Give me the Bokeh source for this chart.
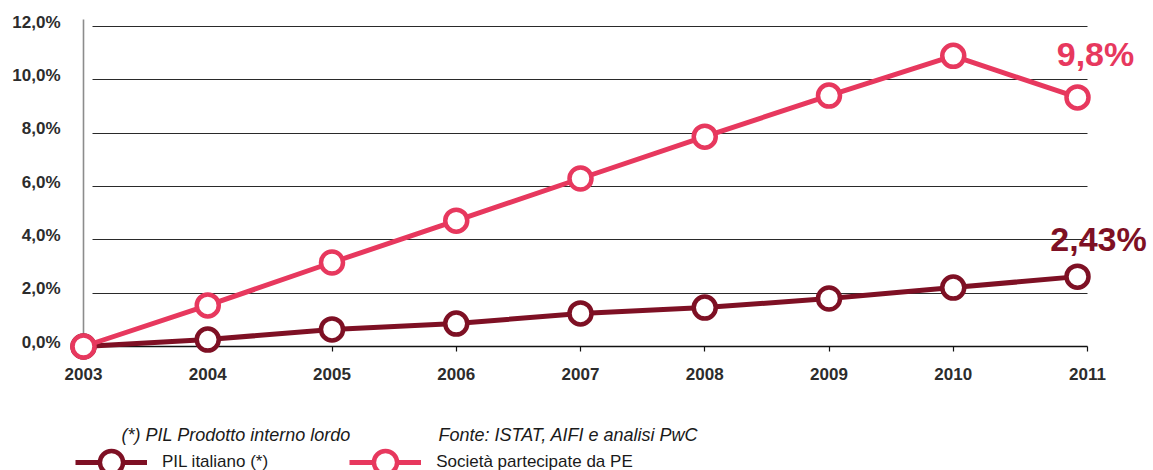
from bokeh.plotting import figure
from bokeh.models import (Range1d, LinearAxis, FixedTicker, Grid, Legend,
                          LegendItem, Label)
from bokeh.core.properties import value
from bokeh.embed import file_html
from bokeh.resources import INLINE

# ---------------- data ----------------
years = [2003, 2004, 2005, 2006, 2007, 2008, 2009, 2010, 2011]
pil_italiano = [0.0, 0.26, 0.64, 0.86, 1.24, 1.46, 1.80, 2.21, 2.62]
societa_pe = [0.0, 1.54, 3.15, 4.72, 6.30, 7.87, 9.41, 10.90, 9.34]
y_ticks = [0, 2, 4, 6, 8, 10, 12]
y_tick_labels = ["0,0%", "2,0%", "4,0%", "6,0%", "8,0%", "10,0%", "12,0%"]
x_tick_labels = ["2003", "2004", "2005", "2006", "2007", "2008", "2009", "2010", "2011"]
series_names = ["PIL italiano (*)", "Società partecipate da PE"]
end_labels = ["2,43%", "9,8%"]
footnote = "(*) PIL Prodotto interno lordo"
source_note = "Fonte: ISTAT, AIFI e analisi PwC"

# ---------------- layout / style ----------------
W, H = 1153, 470
X_FIRST_PX, X_LAST_PX = 83, 1077      # pixel of first / last year
Y0_PX, Y12_PX = 346, 26               # pixel of 0% and 12%
DARK = "#7E1024"
PINK = "#E7385E"
FONT = "Liberation Sans"
TXT = "#1a1a1a"
AXIS_TXT = "#2c2c2c"

xppu = (X_LAST_PX - X_FIRST_PX) / (years[-1] - years[0])
yppu = (Y0_PX - Y12_PX) / (y_ticks[-1] - y_ticks[0])
x_range = Range1d(years[0] - X_FIRST_PX / xppu, years[0] + (W - X_FIRST_PX) / xppu)
y_range = Range1d(-(H - Y0_PX) / yppu, Y0_PX / yppu)

p = figure(width=W, height=H, x_range=x_range, y_range=y_range,
           x_axis_location=None, y_axis_location=None,
           toolbar_location=None, output_backend="svg", min_border=0,
           outline_line_color=None, background_fill_color="white",
           border_fill_color="white")
p.xgrid.visible = False
p.ygrid.visible = False

axis_end = years[-1] + 10 / xppu
grid_start = years[0] + 9 / xppu

# horizontal grid lines
grid = Grid(dimension=1, ticker=FixedTicker(ticks=y_ticks[1:]),
            cross_bounds=(grid_start, axis_end),
            grid_line_color="#2a2a2a", grid_line_width=1.2)
p.add_layout(grid)

# y axis (vertical grey line at first year); labels sit slightly above grid lines
label_lift = 4.5 / yppu
y_label_pos = [t + label_lift for t in y_ticks]
yaxis = LinearAxis(fixed_location=years[0], ticker=FixedTicker(ticks=y_label_pos),
                   bounds=(-1 / yppu, (Y0_PX - 19) / yppu),
                   axis_line_color="#8c8c8c", axis_line_width=1.6,
                   major_tick_line_color=None, minor_tick_line_color=None,
                   major_tick_out=0, major_tick_in=0, major_label_standoff=23,
                   major_label_text_font=FONT, major_label_text_font_size="17px",
                   major_label_text_font_style="bold",
                   major_label_text_color=AXIS_TXT,
                   major_label_overrides={t: l for t, l in zip(y_label_pos, y_tick_labels)},
                   level="underlay")
p.add_layout(yaxis, "left")

# x axis at 0
x_tick_pos = years[:-1] + [axis_end]
xaxis = LinearAxis(fixed_location=0, ticker=FixedTicker(ticks=x_tick_pos),
                   bounds=(years[0], axis_end),
                   axis_line_color="#111111", axis_line_width=1.3,
                   major_tick_line_color="#111111", major_tick_line_width=1.2,
                   minor_tick_line_color=None,
                   major_tick_out=5, major_tick_in=0, major_label_standoff=16,
                   major_label_text_font=FONT, major_label_text_font_size="17px",
                   major_label_text_font_style="bold",
                   major_label_text_color=AXIS_TXT,
                   major_label_overrides={t: l for t, l in zip(x_tick_pos, x_tick_labels)},
                   level="underlay")
p.add_layout(xaxis, "below")

# series
renderers = []
for vals, col in ((pil_italiano, DARK), (societa_pe, PINK)):
    ln = p.line(years, vals, line_width=5, line_color=col)
    sc = p.scatter(years, vals, size=22, fill_color="white",
                   line_color=col, line_width=4.5)
    renderers.append([ln, sc])

# end-of-series labels
p.text(x=[years[-1]], y=[pil_italiano[-1]], text=[end_labels[0]],
       x_offset=21, y_offset=-38, text_align="center", text_baseline="alphabetic",
       text_font=value(FONT), text_font_size="34px", text_font_style="bold",
       text_color=DARK)
p.text(x=[years[-1]], y=[societa_pe[-1]], text=[end_labels[1]],
       x_offset=18, y_offset=-43, text_align="center", text_baseline="alphabetic",
       text_font=value(FONT), text_font_size="34px", text_font_style="bold",
       text_color=PINK)

# legend
legend = Legend(items=[LegendItem(label=series_names[0], renderers=renderers[0]),
                       LegendItem(label=series_names[1], renderers=renderers[1])],
                orientation="horizontal", location=(75, H - 462 - 29),
                padding=0, margin=0, spacing=81,
                glyph_width=72, glyph_height=58, label_standoff=15,
                label_text_font=FONT, label_text_font_size="17px",
                label_text_color=TXT, border_line_color=None,
                background_fill_alpha=0)
p.add_layout(legend)

# footer notes
for txt, xpx in ((footnote, 121), (source_note, 438)):
    p.add_layout(Label(x=xpx, y=H - 434, x_units="screen", y_units="screen",
                       text=txt, text_font=FONT, text_font_size="18px",
                       text_font_style="italic", text_color=TXT,
                       text_baseline="middle"))

open("out.html", "w").write(file_html(p, INLINE))
